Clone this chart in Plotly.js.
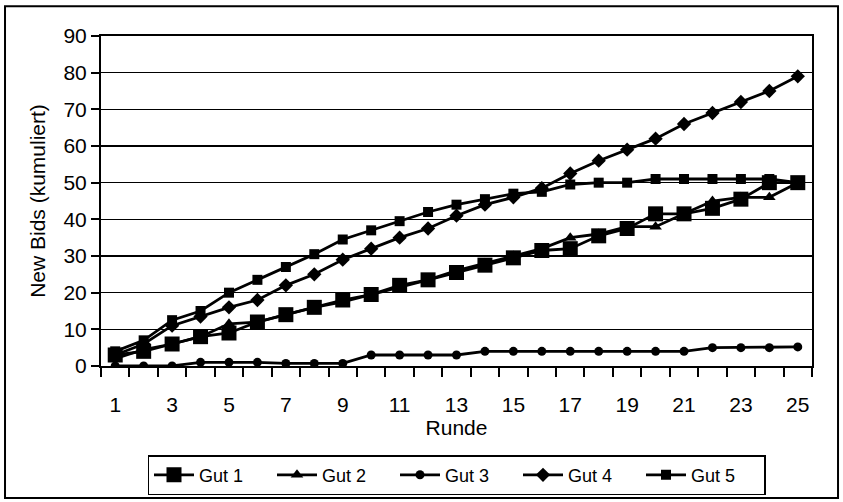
<!DOCTYPE html>
<html>
<head>
<meta charset="utf-8">
<script src="https://cdn.plot.ly/plotly-3.0.1.min.js"></script>
<style>
  body { margin: 0; background: #fff; }
  #chart { width: 843px; height: 502px; }
</style>
</head>
<body>
<div id="chart"></div>
<script>
// Runden 1..25
var runden = [];
for (var i = 1; i <= 25; i++) runden.push(i);

var gut1 = [3, 4, 6, 8, 9, 12, 14, 16, 18, 19.5, 22, 23.5, 25.5, 27.5, 29.5, 31.5, 32, 35.5, 37.5, 41.5, 41.5, 43, 45.5, 50, 50];
var gut2 = [2, 4.5, 6, 8, 11.5, 12, 14, 16, 17.5, 19.5, 21.5, 23.5, 26, 28, 30, 32, 35, 36, 38, 38, 41.5, 45, 46, 46, 50];
var gut3 = [0, 0, 0, 1, 1, 1, 0.7, 0.7, 0.7, 3, 3, 3, 3, 4, 4, 4, 4, 4, 4, 4, 4, 5, 5, 5, 5.2];
var gut4 = [3, 6, 11, 13.5, 16, 18, 22, 25, 29, 32, 35, 37.5, 41, 44, 46, 48.5, 52.5, 56, 59, 62, 66, 69, 72, 75, 79];
var gut5 = [4, 7, 12.5, 15, 20, 23.5, 27, 30.5, 34.5, 37, 39.5, 42, 44, 45.5, 47, 47.5, 49.5, 50, 50, 51, 51, 51, 51, 51, 50];

var xTicks = [1, 3, 5, 7, 9, 11, 13, 15, 17, 19, 21, 23, 25];

function serie(name, y, symbol, size) {
  return {
    x: runden, y: y, name: name,
    type: 'scatter', mode: 'lines+markers',
    line: {color: '#000', width: 2.8},
    marker: {symbol: symbol, size: size, color: '#000'}
  };
}

var data = [
  serie('Gut 1', gut1, 'square', 15),
  serie('Gut 2', gut2, 'triangle-up', 11),
  serie('Gut 3', gut3, 'circle', 9),
  serie('Gut 4', gut4, 'diamond', 11),
  serie('Gut 5', gut5, 'square', 10)
];

var font = {family: 'Liberation Sans, Arial, sans-serif', size: 21, color: '#000'};
var legendFont = {family: 'Liberation Sans, Arial, sans-serif', size: 18, color: '#000'};

var layout = {
  width: 843, height: 502,
  margin: {l: 101, r: 31, t: 36, b: 136, autoexpand: false},
  paper_bgcolor: '#fff', plot_bgcolor: '#fff',
  font: font,
  showlegend: true,
  legend: {
    orientation: 'h', x: 0.5, xanchor: 'center', y: -0.27, yanchor: 'top',
    bordercolor: '#000', borderwidth: 1.5, font: legendFont,
    entrywidth: 68, itemwidth: 40, tracegroupgap: 0
  },
  xaxis: {
    range: [0.5, 25.5],
    tickvals: xTicks, ticktext: xTicks.map(String),
    ticks: '', ticklabelstandoff: 19,
    minor: {tick0: 0.5, dtick: 1, ticks: 'outside', ticklen: 9, tickwidth: 2, tickcolor: '#000', showgrid: false},
    showgrid: false, zeroline: false,
    showline: true, linecolor: '#000', linewidth: 2, mirror: true,
    title: {text: 'Runde', font: font, standoff: 4},
    tickfont: font
  },
  yaxis: {
    range: [0, 90], dtick: 10,
    ticks: 'outside', ticklen: 8, tickwidth: 2, tickcolor: '#000',
    showgrid: true, gridcolor: '#000', gridwidth: 1.5,
    zeroline: false,
    showline: true, linecolor: '#000', linewidth: 2, mirror: true,
    title: {text: 'New Bids (kumuliert)', font: font, standoff: 12},
    tickfont: font
  },
  shapes: [{
    type: 'rect', xref: 'paper', yref: 'paper',
    x0: -0.135, x1: 1.0366, y0: -0.4, y1: 1.09,
    line: {color: '#000', width: 2}, fillcolor: 'rgba(0,0,0,0)', layer: 'below'
  }]
};

Plotly.newPlot('chart', data, layout, {displayModeBar: false, staticPlot: true});
</script>
</body>
</html>
